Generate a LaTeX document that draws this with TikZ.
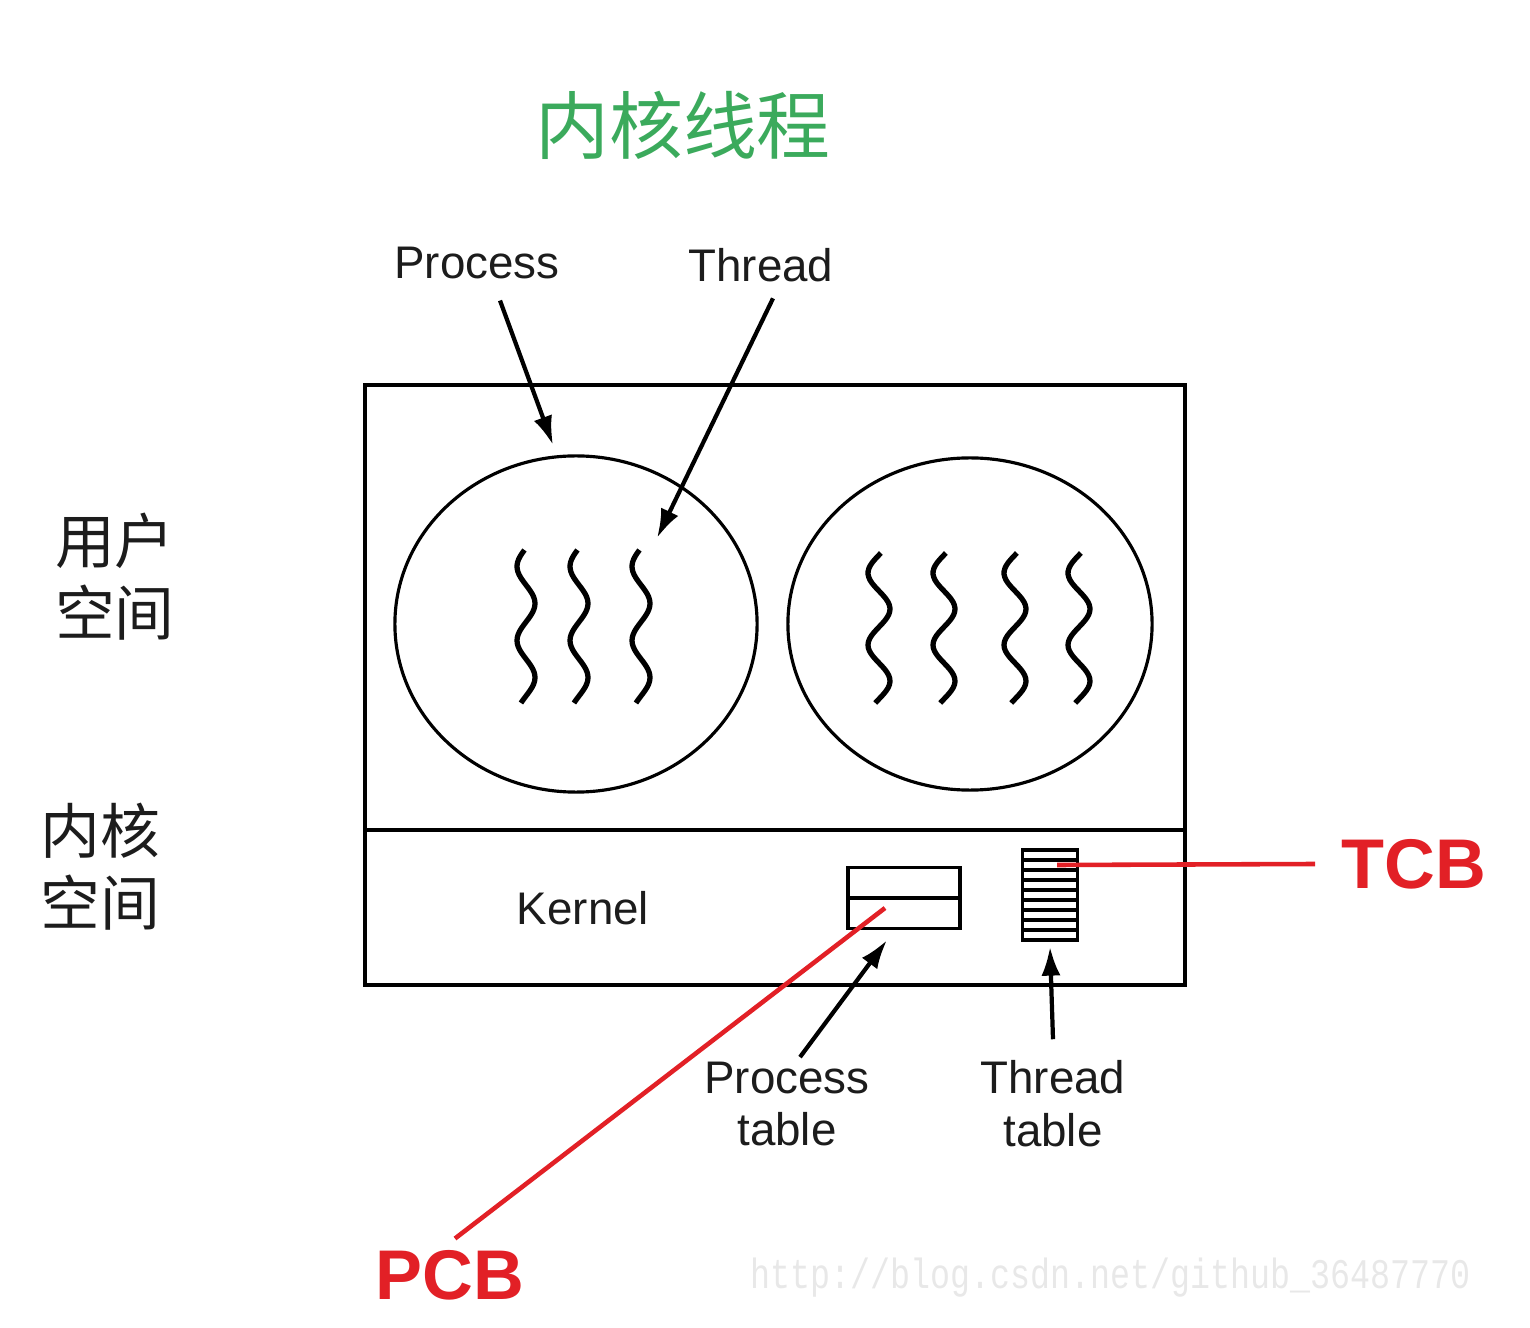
\documentclass[tikz,border=0pt]{standalone}
\usepackage{fontspec}
\setmainfont{Liberation Sans}
\newfontfamily\cjk{Noto Sans CJK SC}
\newfontfamily\wmfont{Liberation Mono}
\usetikzlibrary{shapes.geometric, arrows.meta}
\definecolor{titlegreen}{RGB}{59,170,92}
\definecolor{markred}{RGB}{226,32,38}
\definecolor{ink}{RGB}{28,28,28}

\begin{document}
\begin{tikzpicture}[x=0.01cm, y=-0.01cm, line width=0.9pt,
	label/.style={font=\fontsize{13}{15}\selectfont, text=ink, align=center, inner sep=0pt},
	space/.style={font=\cjk\fontsize{17}{20.5}\selectfont, text=ink, align=center, inner sep=0pt},
	proc/.style={shape=ellipse, draw, minimum width=3.62cm, minimum height=3.36cm, inner sep=0pt},
	ptr/.style={line width=1.2pt, -{Latex[length=0.29cm, width=0.19cm]}},
	redline/.style={markred, line width=1.3pt},
	redlabel/.style={font=\bfseries\fontsize{20}{24}\selectfont, text=markred, inner sep=0pt}]
	\useasboundingbox (0, 0) rectangle (1530, 1328);
	% Paths, nodes and wires:
	\node[font=\cjk\fontsize{21}{24}\selectfont, text=titlegreen, inner sep=0pt] (title) at (683, 125) {内核线程};
	\node[space] (uspace) at (115, 577) {用户\\空间};
	\node[space] (kspace) at (100, 867) {内核\\空间};
	\draw (365, 385) rectangle (1185, 985);
	\draw (365, 830) -- (1185, 830);
	\node[proc] (lproc) at (576, 624) {};
	\node[proc, minimum width=3.64cm, minimum height=3.32cm] (rproc) at (970, 624) {};
	\foreach \sx in {526, 579, 641}
		\draw[line width=1.5pt, domain=550:703, samples=50, smooth] plot ({\sx + 9*sin((\x - 585)/74*360)}, \x);
	\foreach \sx in {879, 944, 1015, 1079}
		\draw[line width=1.5pt, domain=553:703, samples=50, smooth] plot ({\sx + 11*sin((\x - 591)/72*360)}, \x);
	\node[label] (lprocess) at (477, 263) {Process};
	\node[label] (lthread) at (761, 265) {Thread};
	\coordinate (procTip) at (553, 445);
	\coordinate (thrTip) at (657, 538);
	\draw[ptr] ([xshift=0.23cm, yshift=-0.2cm]lprocess.south) -- (procTip);
	\draw[ptr] ([xshift=0.12cm, yshift=-0.15cm]lthread.south) -- (thrTip);
	\node[label] (kernel) at (583, 908) {Kernel};
	\node[draw, minimum width=1.12cm, minimum height=0.61cm, inner sep=0pt] (ptab) at (904, 898) {};
	\draw (ptab.west) -- (ptab.east);
	\node[draw, minimum width=0.55cm, minimum height=0.9cm, inner sep=0pt] (ttab) at (1050, 895) {};
	\foreach \k in {1, ..., 8}
		\draw[line width=1.3pt] (1022.5, 850 + 10*\k) -- (1077.5, 850 + 10*\k);
	\node[label] (lptab) at (787, 1104) {Process\\table};
	\node[label] (lttab) at (1053, 1104) {Thread\\table};
	\draw[ptr] ([xshift=0.13cm, yshift=0.03cm]lptab.north) -- ([xshift=-0.17cm, yshift=-0.1cm]ptab.south);
	\draw[ptr] ([yshift=0.2cm]lttab.north) -- ([yshift=-0.05cm]ttab.south);
	\node[redlabel] (tcb) at (1414, 864) {TCB};
	\node[redlabel] (pcb) at (450, 1275) {PCB};
	\coordinate (tcbEnd) at (1057, 865);
	\coordinate (pcbEnd) at (885, 908);
	\draw[redline] ([xshift=-0.25cm]tcb.west) -- (tcbEnd);
	\draw[redline] ([xshift=0.05cm, yshift=0.1cm]pcb.north) -- (pcbEnd);
	\node[font=\wmfont\fontsize{12}{14}\selectfont, text=black!9, xscale=0.79, inner sep=0pt] (mark) at (1111, 1278) {http://blog.csdn.net/github\_36487770};
\end{tikzpicture}
\end{document}
